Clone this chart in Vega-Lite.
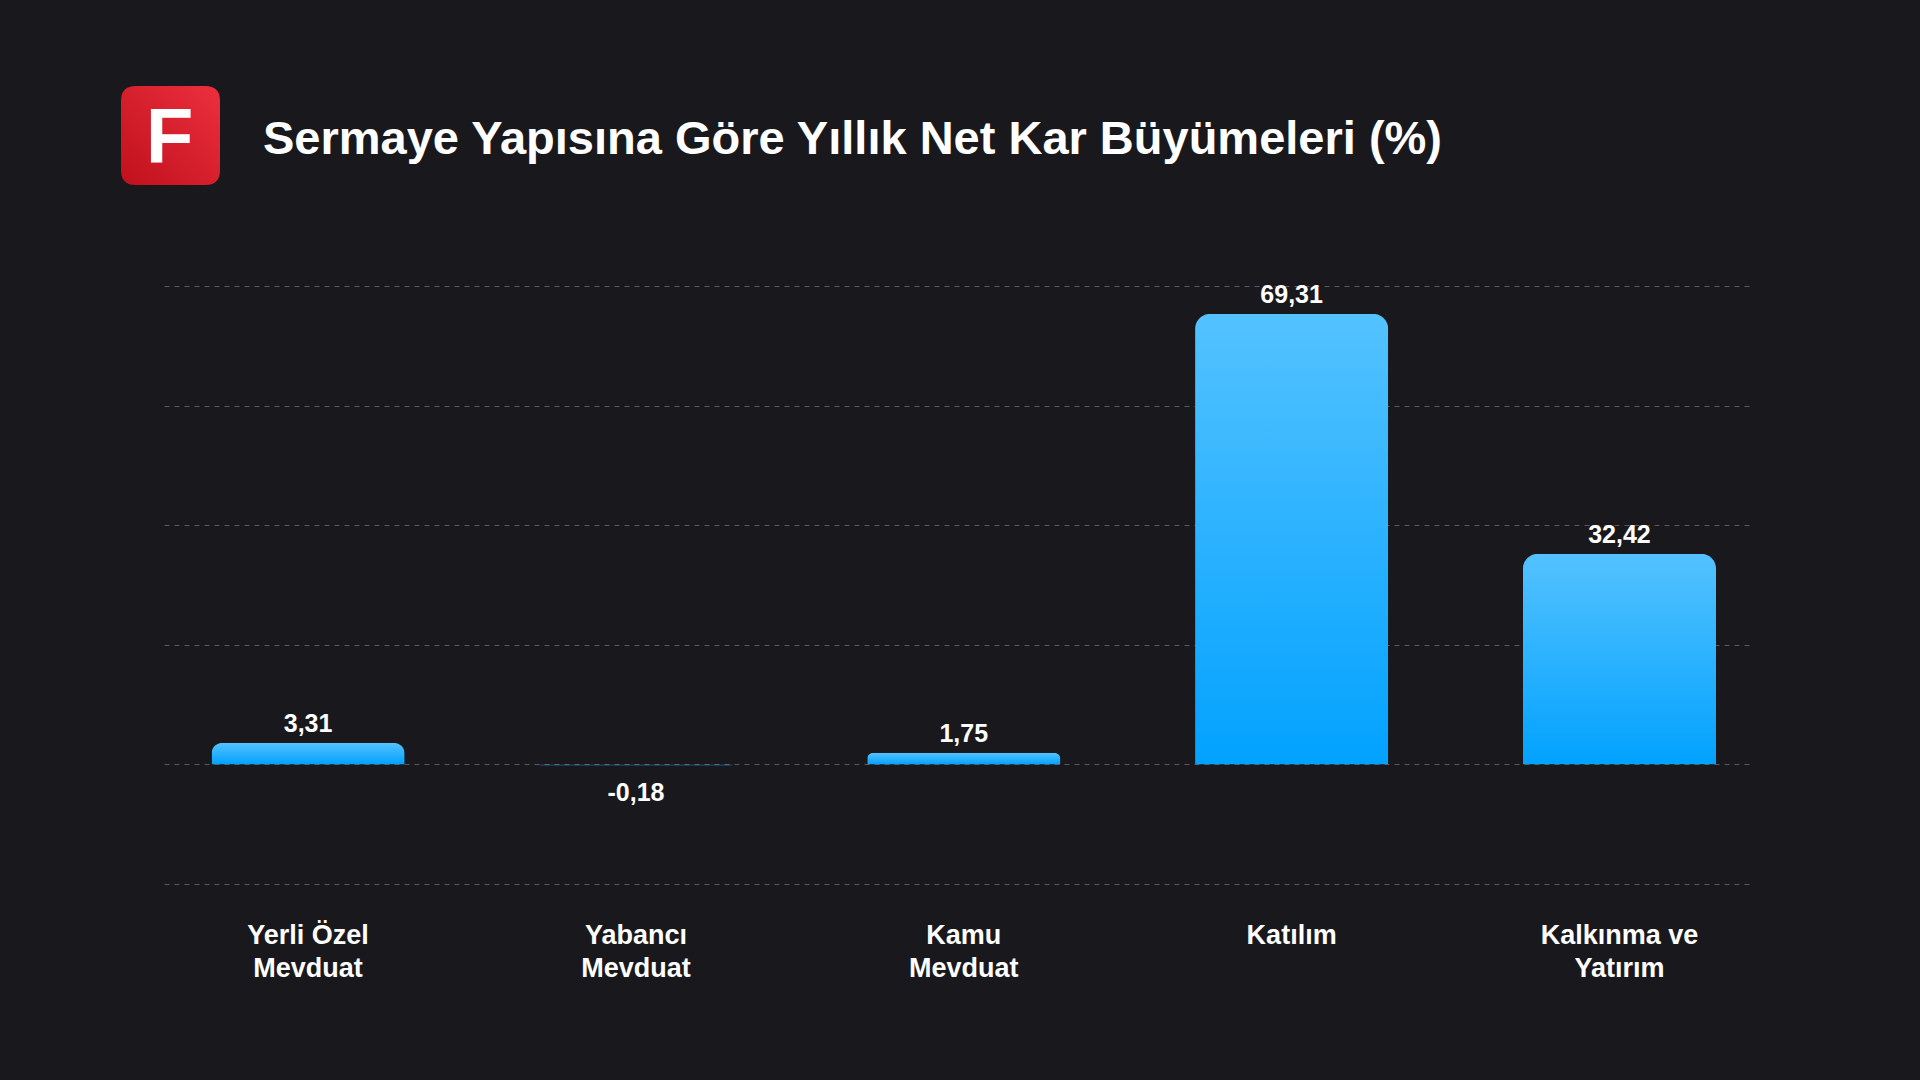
{
  "$schema": "https://vega.github.io/schema/vega-lite/v6.json",
  "background": "#19191d",
  "padding": {"left": 121, "top": 86, "right": 166, "bottom": 102},
  "config": {
    "font": "Liberation Sans",
    "view": {"stroke": null},
    "locale": {"number": {"decimal": ",", "thousands": ".", "grouping": [3], "currency": ["", " ₺"], "minus": "-"}}
  },
  "datasets": {
    "growth": [
      {"group": "Yerli Özel Mevduat", "value": 3.31},
      {"group": "Yabancı Mevduat", "value": -0.18},
      {"group": "Kamu Mevduat", "value": 1.75},
      {"group": "Katılım", "value": 69.31},
      {"group": "Kalkınma ve Yatırım", "value": 32.42}
    ]
  },
  "spacing": 97,
  "vconcat": [
    {
      "bounds": "flush",
      "spacing": 0,
      "hconcat": [
        {
          "width": 99,
          "height": 99,
          "data": {"values": [{"logo": "F"}]},
          "layer": [
            {
              "mark": {
                "type": "point",
                "shape": "M -0.7 -1 H 0.7 Q 1 -1 1 -0.7 V 0.7 Q 1 1 0.7 1 H -0.7 Q -1 1 -1 0.7 V -0.7 Q -1 -1 -0.7 -1 Z",
                "size": 9801,
                "filled": true,
                "opacity": 1,
                "strokeWidth": 0,
                "xOffset": -43,
                "fill": {
                  "gradient": "linear", "x1": 1, "y1": 0, "x2": 0, "y2": 1,
                  "stops": [{"offset": 0, "color": "#ec2f3f"}, {"offset": 1, "color": "#c0101c"}]
                }
              }
            },
            {
              "mark": {"type": "text", "fontSize": 78, "fontWeight": "bold", "color": "white", "baseline": "alphabetic", "dy": 27, "dx": -44},
              "encoding": {"text": {"field": "logo"}}
            }
          ]
        },
        {
          "width": 2,
          "height": 99,
          "data": {"values": [{"title": "Sermaye Yapısına Göre Yıllık Net Kar Büyümeleri (%)"}]},
          "mark": {"type": "text", "align": "left", "baseline": "alphabetic", "dx": -1, "dy": 18, "fontSize": 47, "fontWeight": "bold", "color": "white"},
          "encoding": {"text": {"field": "title"}}
        }
      ]
    },
    {
      "width": 1590,
      "height": 598,
      "data": {"name": "growth"},
      "encoding": {
        "x": {
          "field": "group", "type": "nominal", "sort": null, "title": null,
          "scale": {"paddingInner": 0.411, "paddingOuter": 0.1304, "align": 0.556},
          "axis": {
            "labelAngle": 0, "labelFontSize": 27, "labelFontWeight": "bold", "labelColor": "white",
            "labelLineHeight": 33, "labelPadding": 38, "ticks": false, "domain": false, "grid": false,
            "labelExpr": "split(replace(datum.value, regexp(' (?=[^ ]+$)'), '|'), '|')"
          }
        },
        "y": {
          "field": "value", "type": "quantitative", "title": null,
          "scale": {"domain": [-18.4, 73.6], "nice": false, "zero": true},
          "axis": {
            "values": [-18.4, 0, 18.4, 36.8, 55.2, 73.6], "labels": false, "ticks": false, "domain": false,
            "grid": true, "gridColor": "#5a5a5e", "gridDash": [5, 5], "gridWidth": 1,
            "minExtent": 43, "maxExtent": 43
          }
        }
      },
      "layer": [
        {
          "mark": {
            "type": "bar", "cornerRadiusEnd": 15,
            "fill": {
              "gradient": "linear", "x1": 0, "y1": 0, "x2": 0, "y2": 1,
              "stops": [{"offset": 0, "color": "#54c2ff"}, {"offset": 1, "color": "#02a2ff"}]
            }
          }
        },
        {
          "transform": [{"filter": "datum.value >= 0"}],
          "mark": {"type": "text", "baseline": "alphabetic", "dy": -11, "fontSize": 25, "fontWeight": "bold", "color": "white"},
          "encoding": {"text": {"field": "value", "type": "quantitative", "format": ".2f"}}
        },
        {
          "transform": [{"filter": "datum.value < 0"}],
          "mark": {"type": "text", "baseline": "alphabetic", "dy": 35, "fontSize": 25, "fontWeight": "bold", "color": "white"},
          "encoding": {"text": {"field": "value", "type": "quantitative", "format": ".2f"}}
        }
      ]
    }
  ]
}
